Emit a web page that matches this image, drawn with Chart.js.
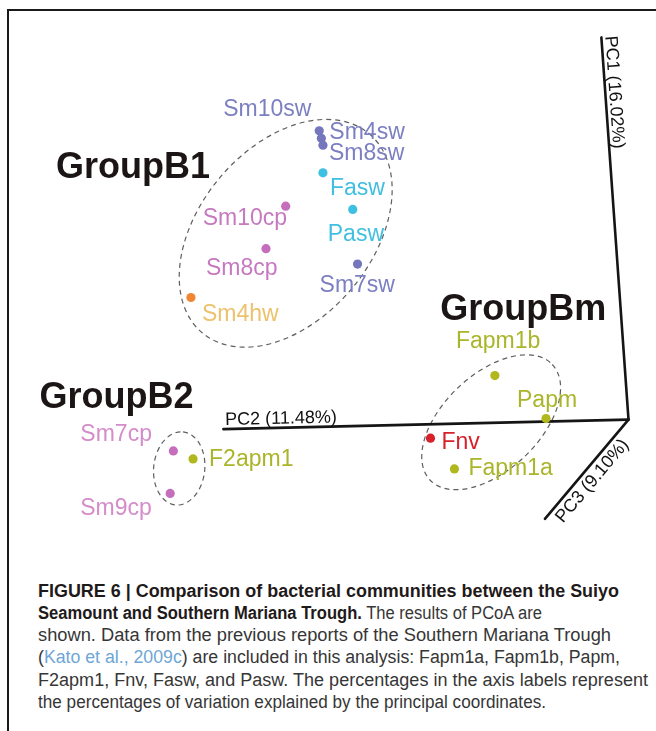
<!DOCTYPE html>
<html><head><meta charset="utf-8">
<script src="https://cdn.jsdelivr.net/npm/chart.js@4.4.1/dist/chart.umd.min.js"></script>
<style>
html,body{margin:0;padding:0;background:#fff;}
body{width:656px;height:731px;position:relative;overflow:hidden;font-family:"Liberation Sans",Arial,sans-serif;}
#frame{position:absolute;left:7px;top:9px;width:670px;height:740px;border-top:2px solid #1a1a1a;border-left:2px solid #1a1a1a;}
#wrap{position:absolute;left:8px;top:10px;width:648px;height:540px;}
#caption{position:absolute;left:38px;top:580px;color:#363636;font-size:18px;}
.ln{position:absolute;left:0;white-space:nowrap;transform-origin:0 50%;line-height:22px;}
.ln b{color:#1f1a1a;}
.link{color:#6fa6d6;}
</style></head><body>
<div id="frame"></div>
<div id="wrap"><canvas id="c" width="648" height="540"></canvas></div>
<div id="caption">
 <div class="ln" data-w="581" style="top:0px"><b>FIGURE 6 | Comparison of bacterial communities between the Suiyo</b></div>
 <div class="ln" data-w="504" style="top:22px"><b>Seamount and Southern Mariana Trough.</b> The results of PCoA are</div>
 <div class="ln" data-w="573" style="top:44px">shown. Data from the previous reports of the Southern Mariana Trough</div>
 <div class="ln" data-w="582" style="top:66px">(<span class="link">Kato et al., 2009c</span>) are included in this analysis: Fapm1a, Fapm1b, Papm,</div>
 <div class="ln" data-w="610" style="top:89px">F2apm1, Fnv, Fasw, and Pasw. The percentages in the axis labels represent</div>
 <div class="ln" data-w="508" style="top:111px">the percentages of variation explained by the principal coordinates.</div>
</div>
<script>
// ---- data (projected PCoA plane) ----
const sampleNames = ['Sm10sw','Sm4sw','Sm8sw','Fasw','Pasw','Sm7sw','Sm10cp','Sm8cp','Sm4hw','Fapm1b','Papm','Fnv','Fapm1a','Sm7cp','F2apm1','Sm9cp'];
const sampleX = [57.6,58.0,58.3,58.3,63.9,64.8,51.3,47.6,33.5,90.6,100.2,78.5,83.0,30.2,33.9,29.6];
const sampleY = [78.1,76.7,75.4,70.2,63.3,53.0,63.9,55.9,46.7,32.0,23.9,20.2,14.4,17.8,16.3,9.8];
const sampleType = ['sw','sw','sw','fsw','fsw','sw','cp','cp','hw','apm','apm','nv','apm','cp','apm','cp'];

const axisNames = ['PC1 (16.02%)','PC2 (11.48%)','PC3 (9.10%)'];
const axisOriginX = 115.7, axisOriginY = 23.7;
const axisEndX = [110.6, 39.6, 100.0];
const axisEndY = [95.7, 21.9, 5.0];

const groupNames = ['GroupB1','GroupBm','GroupB2'];
const groupLabelX = [8.7, 80.9, 5.6];
const groupLabelY = [69.3, 42.4, 25.9];
const ellipseCX = [51.3, 89.9, 31.3];
const ellipseCY = [58.8, 23.2, 14.5];
const ellipseMajor = [24.4, 15.8, 6.9];
const ellipseMinor = [16.2, 9.0, 4.8];
const ellipseAngle = [50, 43.4, 84];

// ---- styles ----
const dotColor = {sw:'#7577bd', fsw:'#3ec0e3', cp:'#c56fbc', hw:'#f08632', apm:'#b0b81e', nv:'#d7212b'};
const textColor = {sw:'#7c7fc2', fsw:'#40bfe0', cp:'#c679c0', hw:'#ecc26c', apm:'#aab52a', nv:'#d7212b'};
const textColorOverride = {Sm7cp:'#d48cca', Sm9cp:'#d48cca'};
const labelOffset = {
  Sm10sw:[-96,-21], Sm4sw:[8,-6], Sm8sw:[6,8], Fasw:[7,16], Pasw:[-25,25], Sm7sw:[-38,22],
  Sm10cp:[-83,12], Sm8cp:[-60,20], Sm4hw:[11,17], Fapm1b:[-39,-34], Papm:[-29,-18],
  Fnv:[11,4], Fapm1a:[14,0], Sm7cp:[-93,-16], F2apm1:[16,1], Sm9cp:[-90,15]
};

const samplePts = sampleX.map((x,i)=>({x:x, y:sampleY[i]}));
const axisDatasets = axisNames.map((n,i)=>({
  label:n, showLine:true,
  data:[{x:axisOriginX,y:axisOriginY},{x:axisEndX[i],y:axisEndY[i]}],
  borderColor:'#151515', borderWidth:2.6, pointRadius:0, borderCapStyle:'round'
}));

const overlay = {
  id:'overlay',
  beforeDatasetsDraw(chart){
    const ctx=chart.ctx, xs=chart.scales.x, ys=chart.scales.y;
    ctx.save();
    ctx.setLineDash([5,4]); ctx.lineWidth=1.2; ctx.strokeStyle='#5e5e5e';
    for(let i=0;i<ellipseCX.length;i++){
      const cx=xs.getPixelForValue(ellipseCX[i]), cy=ys.getPixelForValue(ellipseCY[i]);
      const a=Math.abs(xs.getPixelForValue(ellipseCX[i]+ellipseMajor[i])-cx);
      const b=Math.abs(xs.getPixelForValue(ellipseCX[i]+ellipseMinor[i])-cx);
      ctx.beginPath(); ctx.ellipse(cx,cy,a,b,-ellipseAngle[i]*Math.PI/180,0,2*Math.PI); ctx.stroke();
    }
    ctx.restore();
  },
  afterDatasetsDraw(chart){
    const ctx=chart.ctx, xs=chart.scales.x, ys=chart.scales.y;
    ctx.save();
    ctx.font='23px "Liberation Sans", Arial, sans-serif';
    ctx.textBaseline='middle'; ctx.textAlign='left';
    sampleNames.forEach((n,i)=>{
      const px=xs.getPixelForValue(sampleX[i]), py=ys.getPixelForValue(sampleY[i]);
      const o=labelOffset[n];
      ctx.fillStyle=textColorOverride[n]||textColor[sampleType[i]];
      ctx.fillText(n, px+o[0], py+o[1]);
    });
    ctx.font='bold 36px "Liberation Sans", Arial, sans-serif';
    ctx.textBaseline='alphabetic'; ctx.fillStyle='#1c1516';
    groupNames.forEach((g,i)=>{
      ctx.fillText(g, xs.getPixelForValue(groupLabelX[i])-3, ys.getPixelForValue(groupLabelY[i]));
    });
    ctx.font='18px "Liberation Sans", Arial, sans-serif';
    ctx.fillStyle='#111';
    const ox=xs.getPixelForValue(axisOriginX), oy=ys.getPixelForValue(axisOriginY);
    const place=(i, along, off, baseline)=>{
      const ex=xs.getPixelForValue(axisEndX[i]), ey=ys.getPixelForValue(axisEndY[i]);
      const ang = Math.atan2(oy-ey, ox-ex);
      ctx.save(); ctx.translate(ex,ey); ctx.rotate(ang);
      ctx.textBaseline=baseline; ctx.fillText(axisNames[i], along, off);
      ctx.restore();
    };
    place(0, -1, -4, 'alphabetic');
    place(1, 2, -4, 'alphabetic');
    place(2, 8, 3, 'top');
    ctx.restore();
  }
};

new Chart(document.getElementById('c'), {
  type:'scatter',
  data:{datasets:[
    {label:'samples', data:samplePts, pointRadius:4.6, pointHoverRadius:4.6,
     backgroundColor:sampleType.map(t=>dotColor[t]), borderWidth:0},
    ...axisDatasets
  ]},
  options:{
    responsive:false, animation:false, devicePixelRatio:1,
    layout:{padding:0},
    plugins:{legend:{display:false}, tooltip:{enabled:false}},
    scales:{
      x:{type:'linear', min:0, max:120, display:false},
      y:{type:'linear', min:0, max:100, display:false}
    }
  },
  plugins:[overlay]
});

document.querySelectorAll('.ln').forEach(el=>{
  const w=el.getBoundingClientRect().width, t=+el.dataset.w;
  if(w>0) el.style.transform='scaleX('+(t/w).toFixed(4)+')';
});
</script>
</body></html>
